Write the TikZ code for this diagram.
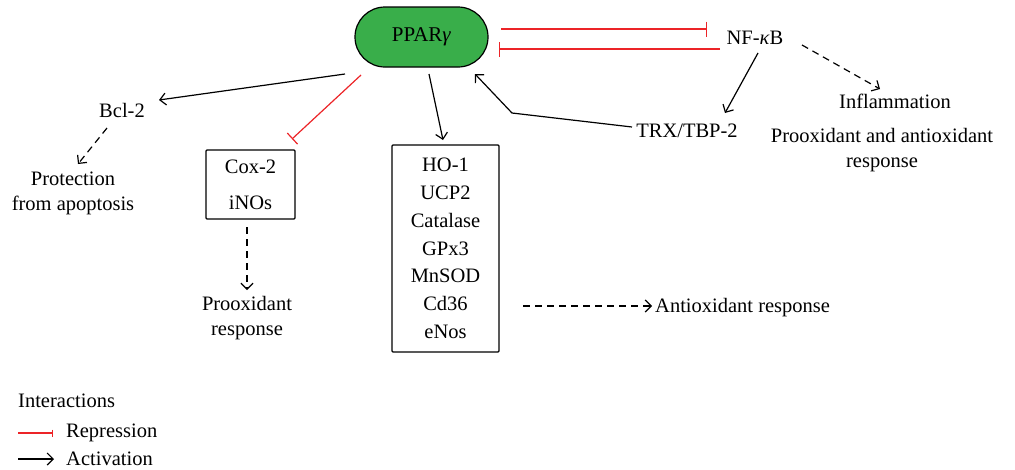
\documentclass[tikz,border=0pt]{standalone}
\usepackage{fontspec}
\setmainfont{Liberation Serif}
\usetikzlibrary{arrows.meta}
\definecolor{pgreen}{RGB}{57,174,74}
\definecolor{rep}{RGB}{236,36,40}
\begin{document}
\begin{tikzpicture}[x=1pt,y=-1pt,
  txt/.style={inner sep=0pt,align=center,font=\fontsize{20.5}{25}\selectfont},
  act/.style={draw=black,line width=1.2pt,-{Straight Barb[length=6pt,width=12pt,line width=1.2pt]}},
  dact/.style={act,dash pattern=on 7pt off 5pt},
  repr/.style={draw=rep,line width=1.2pt,-{Bar[width=15pt,line width=1.2pt]}},
  boxed/.style={draw=black,line width=1.2pt,rounded corners=1pt,inner sep=0pt}]
\useasboundingbox (0,0) rectangle (1015,469);
% main nodes
\node[draw=black,line width=1.2pt,fill=pgreen,rounded corners=30pt,minimum width=133pt,minimum height=60pt,inner sep=0pt,font=\fontsize{21}{24}\selectfont] (ppar) at (421.5,37) {PPAR\textit{γ}};
\node[txt] (nfkb) at (755,38) {NF-\textit{κ}B};
\node[txt] (trx) at (687,131) {TRX/TBP-2};
\node[txt] (infl) at (895,101) {Inflammation};
\node[txt] (proanti) at (882,150) {Prooxidant and antioxidant\\response};
\node[txt] (bcl) at (122,110) {Bcl-2};
\node[txt] (prot) at (73,193) {Protection\\from apoptosis};
\node[boxed,minimum width=89pt,minimum height=69pt,txt,font=\fontsize{20.5}{36}\selectfont] (cox) at (250.5,184.5) {Cox-2\\iNOs};
\node[txt] (proox) at (247,318) {Prooxidant\\response};
\node[boxed,minimum width=107pt,minimum height=207pt,txt,font=\fontsize{20.5}{27.8}\selectfont] (genes) at (445.5,248.5) {HO-1\\UCP2\\Catalase\\GPx3\\MnSOD\\Cd36\\eNos};
\node[txt,anchor=west] (antiox) at (655,308) {Antioxidant response};
% coordinates
\coordinate (r1s) at (501,29); \coordinate (r1e) at (707,29);
\coordinate (r2s) at (720,49); \coordinate (r2e) at (499,49);
\coordinate (nfa) at (758,53); \coordinate (trxa) at (725,113);
\coordinate (nfb) at (802,45); \coordinate (infa) at (880,89);
\coordinate (trxs) at (632,127); \coordinate (bend) at (512,113); \coordinate (ppe) at (475,74);
\coordinate (pbs) at (345,74); \coordinate (bcle) at (159,100);
\coordinate (bcs) at (107,128); \coordinate (prte) at (78,164);
\coordinate (prs) at (361,75); \coordinate (coxe) at (292,139);
\coordinate (coxs) at (247,227); \coordinate (proe) at (247,290);
\coordinate (pgs) at (429,74); \coordinate (gene) at (443,140);
\coordinate (gs) at (523,306); \coordinate (ante) at (652,306);
% connectors
\draw[repr] (r1s) -- (r1e);
\draw[repr] (r2s) -- (r2e);
\draw[act] (nfa) -- (trxa);
\draw[dact] (nfb) -- (infa);
\draw[act] (trxs) -- (bend) -- (ppe);
\draw[act] (pbs) -- (bcle);
\draw[dact] (bcs) -- (prte);
\draw[repr] (prs) -- (coxe);
\draw[dact] (coxs) -- (proe);
\draw[act] (pgs) -- (gene);
\draw[dact] (gs) -- (ante);
% legend
\node[txt,anchor=west] (leg) at (18,401) {Interactions};
\node[txt,anchor=west] (legr) at (66,433) {Repression};
\node[txt,anchor=west] (lega) at (66,459) {Activation};
\coordinate (l1s) at (18,433); \coordinate (l1e) at (53,433);
\coordinate (l2s) at (18,459); \coordinate (l2e) at (54,459);
\draw[repr,-{Bar[width=7pt,line width=1.2pt]}] (l1s) -- (l1e);
\draw[act] (l2s) -- (l2e);
\end{tikzpicture}
\end{document}
